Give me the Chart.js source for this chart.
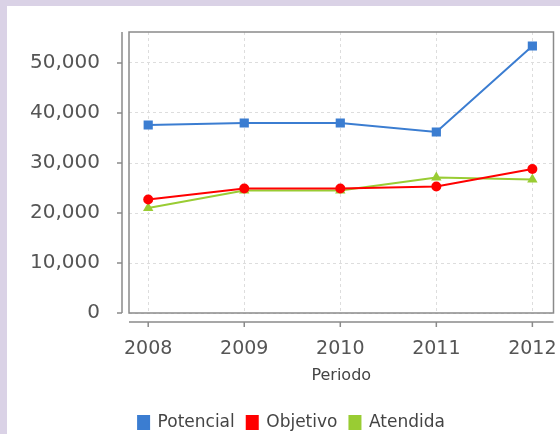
<!DOCTYPE html>
<html>
<head>
<meta charset="utf-8">
<script src="https://cdn.jsdelivr.net/npm/chart.js@4"></script>
<style>
  html, body { margin: 0; padding: 0; background: #dad2e6; }
  #wrap { position: absolute; left: 7px; top: 6px; width: 553px; height: 428px; background: #fff; }
</style>
</head>
<body>
<div id="wrap"><canvas id="lineChart" width="553" height="428"></canvas></div>
<script>
const years = [2008, 2009, 2010, 2011, 2012];
const potencial = [37600, 38000, 38000, 36200, 53400];
const objetivo = [22700, 24900, 24900, 25300, 28800];
const atendida = [21000, 24500, 24500, 27100, 26700];
const yTicks = [0, 10000, 20000, 30000, 40000, 50000];

const axisGray = '#8a8a8a';

// plot frame and detached axis lines like the original
const frame = {
    id: 'frame',
    afterDraw(chart) {
        const c = chart.ctx, a = chart.chartArea;
        const xs = chart.scales.x, ys = chart.scales.y;
        c.save();
        c.strokeStyle = axisGray;
        c.lineWidth = 1.5;
        c.strokeRect(a.left, a.top, a.right - a.left, a.bottom - a.top);
        // y axis
        c.beginPath();
        c.moveTo(a.left - 7, a.top);
        c.lineTo(a.left - 7, a.bottom);
        yTicks.forEach(v => {
            const y = ys.getPixelForValue(v);
            c.moveTo(a.left - 7, y);
            c.lineTo(a.left - 12, y);
        });
        // x axis
        c.moveTo(a.left, a.bottom + 9);
        c.lineTo(a.right, a.bottom + 9);
        years.forEach(v => {
            const x = xs.getPixelForValue(v);
            c.moveTo(x, a.bottom + 9);
            c.lineTo(x, a.bottom + 14);
        });
        c.stroke();
        c.restore();
    }
};

function noPad(s) {
    s.paddingLeft = 0;
    s.paddingRight = 0;
    s.paddingTop = 0;
    s.paddingBottom = 0;
}

const ctx = document.getElementById('lineChart').getContext('2d');
new Chart(ctx, {
    type: 'line',
    data: {
        datasets: [{
            label: 'Potencial',
            data: years.map((y, i) => ({x: y, y: potencial[i]})),
            borderColor: '#3b7dd1',
            backgroundColor: '#3b7dd1',
            borderWidth: 2,
            pointStyle: 'rect',
            pointRadius: 6.5,
            pointBorderWidth: 0
        }, {
            label: 'Objetivo',
            data: years.map((y, i) => ({x: y, y: objetivo[i]})),
            borderColor: '#ff0000',
            backgroundColor: '#ff0000',
            borderWidth: 2,
            pointStyle: 'circle',
            pointRadius: 5,
            pointBorderWidth: 0
        }, {
            label: 'Atendida',
            data: years.map((y, i) => ({x: y, y: atendida[i]})),
            borderColor: '#99cc33',
            backgroundColor: '#99cc33',
            borderWidth: 2,
            pointStyle: 'triangle',
            pointRadius: 6,
            pointBorderWidth: 0
        }]
    },
    options: {
        responsive: false,
        animation: false,
        layout: {
            padding: { left: 22, right: 6, top: 26, bottom: -7 }
        },
        scales: {
            x: {
                type: 'linear',
                min: 2007.8,
                max: 2012.22,
                afterBuildTicks: s => { s.ticks = years.map(v => ({value: v})); },
                afterFit: s => { s.height = 128 - s.chart.legend.height; noPad(s); },
                grid: {
                    color: '#dddddd',
                    drawTicks: false
                },
                border: { display: false, dash: [3, 3] },
                ticks: {
                    padding: 25,
                    color: '#555555',
                    font: { family: 'DejaVu Sans', size: 19 },
                    callback: v => String(v)
                },
                title: {
                    display: true,
                    text: 'Periodo',
                    color: '#444444',
                    font: { family: 'DejaVu Sans', size: 16 },
                    padding: { top: 0, bottom: 17 }
                }
            },
            y: {
                min: 0,
                max: 56200,
                afterBuildTicks: s => { s.ticks = yTicks.map(v => ({value: v})); },
                afterFit: s => { s.width = 100; noPad(s); },
                grid: {
                    color: '#dddddd',
                    drawTicks: false
                },
                border: { display: false, dash: [3, 3] },
                ticks: {
                    padding: 29,
                    color: '#555555',
                    font: { family: 'DejaVu Sans', size: 20 },
                    callback: v => v.toLocaleString('en-US')
                }
            }
        },
        plugins: {
            legend: {
                position: 'bottom',
                labels: {
                    boxWidth: 11,
                    boxHeight: 13,
                    padding: 12,
                    color: '#444444',
                    font: { family: 'DejaVu Sans', size: 17 }
                }
            },
            tooltip: { enabled: false }
        }
    },
    plugins: [frame]
});
</script>
</body>
</html>
